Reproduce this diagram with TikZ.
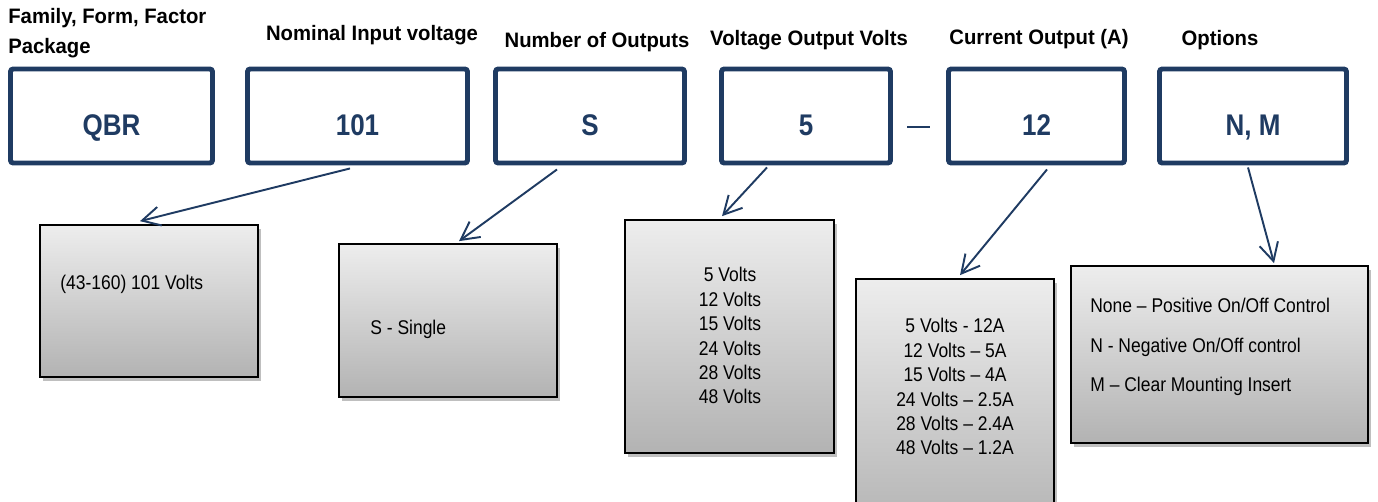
\documentclass[tikz,border=0pt]{standalone}
\usepackage{fontspec}
\setmainfont{Liberation Sans}[FakeStretch=0.88]
\newfontfamily\capfont{Liberation Sans}[FakeStretch=0.97]
\newfontfamily\codefont{Liberation Sans}[FakeStretch=0.87]
\usetikzlibrary{arrows.meta,shadows,calc}
\definecolor{navy}{HTML}{1F3B62}

\tikzset{
  headlabel/.style={font=\capfont\bfseries\fontsize{11.9}{17}\selectfont,align=left,inner sep=0pt},
  codebox/.style={draw=navy,line width=2.8pt,rounded corners=1.5pt,text=navy,
    font=\codefont\bfseries\fontsize{17}{20}\selectfont,text height=0.78cm,text depth=0pt},
  infobox/.style={draw=black,line width=1pt,top color=black!7,bottom color=black!30,
    drop shadow={shadow xshift=1.5pt,shadow yshift=-2.5pt,opacity=0.25,fill=black}},
  infotext/.style={font=\fontsize{11.3}{13.9}\selectfont,inner sep=0pt},
  pointer/.style={draw=navy,line width=1.1pt,-{Straight Barb[length=0.36cm,width=0.38cm]}}
}

\begin{document}
\begin{tikzpicture}[x=0.02cm,y=-0.02cm]
\useasboundingbox (0,0) rectangle (1378,501);

% headings
\node[headlabel,anchor=west] (hfam) at (8,33) {Family, Form, Factor\\Package};
\node[headlabel] (hin) at (372,35) {Nominal Input voltage};
\node[headlabel] (hnum) at (597,42) {Number of Outputs};
\node[headlabel] (hvolt) at (809,40) {Voltage Output Volts};
\node[headlabel] (hcur) at (1039,39) {Current Output (A)};
\node[headlabel] (hopt) at (1220,40) {Options};

% part number boxes
\node[codebox,minimum width=4.04cm,minimum height=1.88cm] (fam) at (111.5,116) {QBR};
\node[codebox,minimum width=4.4cm,minimum height=1.88cm] (vin) at (357.5,116) {101};
\node[codebox,minimum width=3.78cm,minimum height=1.88cm] (nout) at (590,116) {S};
\node[codebox,minimum width=3.38cm,minimum height=1.88cm] (vout) at (806,116) {5};
\node[codebox,minimum width=3.52cm,minimum height=1.88cm] (iout) at (1036.5,116) {12};
\node[codebox,minimum width=3.74cm,minimum height=1.88cm] (opt) at (1253,116) {N, M};
\coordinate (d1) at (907,127);
\coordinate (d2) at (930,127);
\draw[navy,line width=1.1pt] (d1) -- (d2);

% description boxes
\node[infobox,minimum width=4.36cm,minimum height=3.04cm] (bin) at (149,301) {};
\node[infotext,anchor=west] (tin) at (60,284) {(43-160) 101 Volts};

\node[infobox,minimum width=4.36cm,minimum height=3.06cm] (bnum) at (448,320.5) {};
\node[infotext,anchor=west] (tnum) at (370,329) {S - Single};

\node[infobox,minimum width=4.18cm,minimum height=4.66cm] (bvolt) at (729.5,336.5) {};
\node[infotext,align=center,anchor=north] (tvolt) at (730,267) {5 Volts\\12 Volts\\15 Volts\\24 Volts\\28 Volts\\48 Volts};

\node[infobox,minimum width=3.96cm,minimum height=5.1cm] (bcur) at (955,406.5) {};
\node[infotext,align=center,anchor=north] (tcur) at (955,318) {5 Volts - 12A\\12 Volts -- 5A\\15 Volts -- 4A\\24 Volts -- 2.5A\\28 Volts -- 2.4A\\48 Volts -- 1.2A};

\node[infobox,minimum width=5.94cm,minimum height=3.54cm] (bopt) at (1219.5,354.5) {};
\node[infotext,anchor=west] (topt1) at (1090,305) {None -- Positive On/Off Control};
\node[infotext,anchor=west] (topt2) at (1090,347) {N - Negative On/Off control};
\node[infotext,anchor=west] (topt3) at (1090,386) {M -- Clear Mounting Insert};

% pointers
\draw[pointer] ($(vin.south)+(-7.5,3)$) -- ($(bin.north)+(-9,-3)$);
\draw[pointer] ($(nout.south)+(-33,4)$) -- ($(bnum.north)+(11,-2)$);
\draw[pointer] ($(vout.south)+(-39,2)$) -- ($(bvolt.north)+(-7.5,-3)$);
\draw[pointer] ($(iout.south)+(10.5,4)$) -- ($(bcur.north)+(5,-3)$);
\draw[pointer] ($(opt.south)+(-5,2)$) -- ($(bopt.north)+(54.5,-2)$);
\end{tikzpicture}
\end{document}
